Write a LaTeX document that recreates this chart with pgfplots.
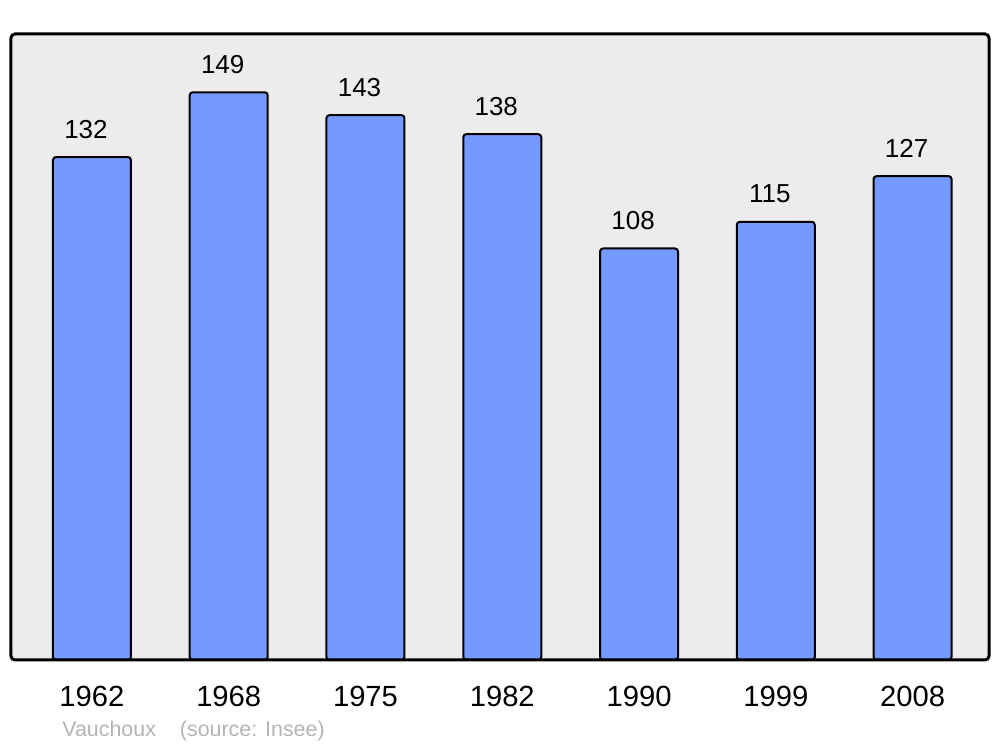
\documentclass[border=0pt]{standalone}
\usepackage{fontspec}
\setmainfont{Liberation Sans}
\usepackage{pgfplots}
\pgfplotsset{compat=1.18}
\definecolor{barblue}{HTML}{7499FF}
\definecolor{bggray}{HTML}{ECECEC}
\definecolor{srcgray}{HTML}{B4B4B4}
\begin{document}
\begin{tikzpicture}
\begin{axis}[
    name=ax,
    scale only axis,
    width=489pt, height=313pt,
    xmin=-0.592, xmax=6.559,
    ymin=0, ymax=164.3,
    axis line style={draw=none},
    axis background/.style={fill=bggray, rounded corners=2pt},
    xtick={0,...,6},
    xticklabels={1962,1968,1975,1982,1990,1999,2008},
    ytick=\empty,
    major tick length=0pt,
    xticklabel style={font=\fontsize{14.6pt}{17pt}\selectfont, yshift=-9.5pt},
    /pgf/number format/assume math mode=true,
    nodes near coords,
    every node near coord/.append style={font=\fontsize{13pt}{15pt}\selectfont, xshift=-3pt, yshift=5.5pt, black},
    clip=false,
]
\addplot[ybar, bar width=39pt, fill=barblue, draw=black, line width=1pt, rounded corners=1.5pt] coordinates {
    (0,132) (1,149) (2,143) (3,138) (4,108) (5,115) (6,127)
};
\end{axis}
\draw[line width=1.5pt, rounded corners=2pt] (ax.south west) rectangle (ax.north east);
\node[anchor=base west, font=\fontsize{10.7pt}{13pt}\selectfont, text=srcgray, inner sep=0pt]
    at ([xshift=25.5pt, yshift=-38.5pt]ax.south west) {Vauchoux\hspace{12pt}(source: Insee)};
\pgfresetboundingbox
\path ([xshift=-5.5pt,yshift=-43.5pt]ax.south west) rectangle ([xshift=5.5pt,yshift=17pt]ax.north east);
\end{tikzpicture}
\end{document}
